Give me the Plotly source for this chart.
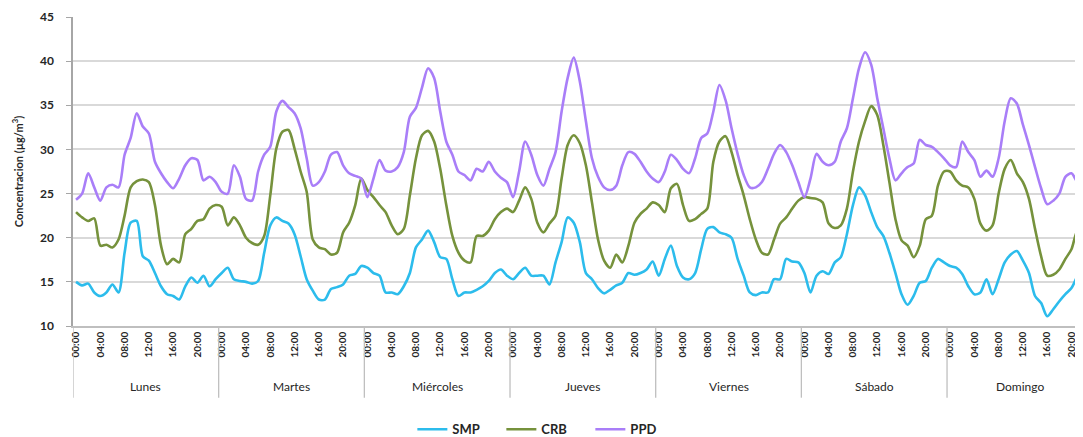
import plotly.graph_objects as go

days = ["Lunes", "Martes", "Miércoles", "Jueves", "Viernes", "Sábado", "Domingo"]
hour_labels = ["00:00", "04:00", "08:00", "12:00", "16:00", "20:00"]

smp = [15.0, 14.6, 14.8, 13.8, 13.4, 13.8, 14.7, 13.8, 18.3, 21.7, 21.9, 17.9, 17.4, 16.0, 14.5, 13.6,
       13.4, 13.0, 14.5, 15.5, 14.9, 15.7, 14.5, 15.3,
       16.0, 16.6, 15.3, 15.1, 15.0, 14.8, 15.1, 18.3, 21.4, 22.3, 21.9, 21.6, 20.4, 17.9, 15.3, 14.0,
       13.0, 13.0, 14.2, 14.4, 14.7, 15.7, 15.9, 16.8,
       16.6, 16.0, 15.7, 13.8, 13.8, 13.6, 14.5, 16.0, 18.9, 19.8, 20.8, 19.5, 17.8, 17.6, 15.3, 13.4,
       13.8, 13.8, 14.1, 14.5, 15.1, 16.0, 16.4, 15.7,
       15.3, 16.0, 16.6, 15.7, 15.7, 15.7, 14.7, 17.2, 19.5, 22.3, 21.7, 19.5, 16.0, 15.3, 14.3, 13.7,
       14.1, 14.6, 14.9, 16.0, 15.8, 16.0, 16.4, 17.3,
       15.7, 17.6, 19.1, 16.8, 15.5, 15.3, 16.0, 18.7, 21.0, 21.2, 20.6, 20.4, 20.0, 17.6, 15.7, 13.8,
       13.5, 13.8, 13.8, 15.3, 15.3, 17.6, 17.3, 17.2,
       16.0, 13.8, 15.7, 16.2, 15.9, 17.2, 17.8, 20.4, 23.7, 25.7, 24.8, 22.9, 21.2, 20.2, 18.3, 16.0,
       13.6, 12.4, 13.4, 14.9, 15.1, 16.6, 17.6, 17.2,
       16.8, 16.6, 15.9, 14.5, 13.6, 13.8, 15.3, 13.6, 15.3, 17.2, 18.1, 18.5, 17.4, 16.0, 13.4, 12.6,
       11.1, 11.9, 12.8, 13.6, 14.3, 15.7, 16.8, 17.3]

crb = [22.9, 22.3, 21.9, 22.2, 19.1, 19.2, 18.9, 19.8, 22.5, 25.7, 26.4, 26.6, 26.3, 23.7, 19.1, 17.0,
       17.6, 17.2, 20.4, 21.0, 21.9, 22.1, 23.3, 23.7,
       23.5, 21.4, 22.3, 21.4, 20.0, 19.4, 19.2, 20.2, 24.8, 30.1, 32.0, 32.2, 30.1, 27.5, 25.2, 19.8,
       18.9, 18.7, 18.1, 18.3, 20.6, 21.7, 23.7, 26.7,
       25.4, 24.6, 23.7, 22.9, 21.4, 20.4, 21.0, 24.8, 29.0, 31.6, 32.1, 30.9, 27.8, 23.7, 20.2, 18.3,
       17.4, 17.2, 20.2, 20.2, 20.8, 22.1, 22.9, 23.3,
       22.9, 24.2, 25.7, 24.4, 21.7, 20.6, 21.6, 22.5, 26.7, 30.5, 31.6, 30.7, 28.2, 24.0, 19.8, 17.4,
       16.6, 18.1, 17.2, 19.1, 21.7, 22.7, 23.3, 24.0,
       23.7, 22.9, 25.6, 26.1, 23.7, 21.9, 22.1, 22.7, 23.3, 28.6, 30.9, 31.5, 29.7, 27.1, 24.8, 22.1,
       19.8, 18.3, 18.1, 19.8, 21.6, 22.3, 23.3, 24.2,
       24.6, 24.5, 24.4, 24.0, 21.6, 21.1, 21.4, 23.3, 27.5, 30.9, 33.2, 34.9, 33.9, 30.5, 26.3, 22.1,
       19.7, 19.1, 17.8, 19.1, 22.1, 22.5, 25.9, 27.5,
       27.5, 26.5, 25.9, 25.7, 24.4, 21.6, 20.8, 21.4, 25.0, 27.8, 28.8, 27.3, 26.3, 24.4, 21.0, 17.9,
       15.7, 15.8, 16.4, 17.6, 18.7, 20.8, 21.0, 21.0]

ppd = [24.3, 25.0, 27.3, 25.7, 24.2, 25.7, 26.0, 25.7, 29.4, 31.3, 34.1, 32.6, 31.8, 28.6, 27.3, 26.3,
       25.6, 26.7, 28.2, 29.0, 28.8, 26.5, 26.9, 26.3,
       25.2, 25.0, 28.2, 26.9, 24.4, 24.2, 27.5, 29.4, 30.3, 34.3, 35.5, 34.8, 34.1, 32.4, 29.0, 25.9,
       26.3, 27.5, 29.4, 29.7, 28.2, 27.3, 27.0, 26.7,
       24.6, 26.7, 28.8, 27.6, 27.5, 28.0, 29.7, 33.7, 34.7, 37.0, 39.2, 38.1, 34.3, 30.9, 29.4, 27.5,
       27.1, 26.5, 27.8, 27.5, 28.6, 27.5, 26.8, 26.3,
       24.6, 27.5, 30.9, 29.4, 27.1, 25.9, 27.8, 29.7, 34.3, 38.1, 40.4, 37.7, 33.2, 29.0, 26.9, 25.7,
       25.4, 25.9, 28.2, 29.7, 29.5, 28.6, 27.5, 26.7,
       26.3, 27.5, 29.4, 28.8, 27.8, 27.3, 29.0, 31.3, 31.8, 34.3, 37.3, 35.6, 32.4, 29.5, 27.1, 25.7,
       25.7, 26.3, 27.8, 29.5, 30.5, 29.7, 28.2, 26.3,
       24.6, 26.7, 29.5, 28.6, 28.2, 28.6, 30.9, 32.4, 35.8, 39.2, 41.0, 39.6, 35.8, 32.4, 29.0, 26.5,
       27.3, 28.0, 28.4, 31.1, 30.5, 30.3, 29.7, 29.0,
       28.2, 28.0, 30.9, 29.7, 28.8, 26.9, 27.6, 26.9, 29.0, 33.2, 35.8, 35.2, 32.8, 30.5, 28.0, 25.6,
       23.8, 24.2, 25.0, 26.9, 27.3, 26.3, 26.1, 26.0]

n = len(smp)
x = list(range(n))
hours_per_day = n // len(days)
step = hours_per_day // len(hour_labels)

tickvals = [d * hours_per_day + k * step for d in range(len(days)) for k in range(len(hour_labels))]
ticktext = [hour_labels[k] for d in range(len(days)) for k in range(len(hour_labels))]

FONT = "Lato, 'Open Sans', sans-serif"
TXT = "#262626"

fig = go.Figure()
series = [("SMP", smp, "#2cbcec"), ("CRB", crb, "#76923c"), ("PPD", ppd, "#a97ef8")]
for name, vals, col in series:
    fig.add_trace(go.Scatter(x=x, y=vals, name=name, mode="lines",
                             line=dict(color=col, width=2.6, shape="spline", smoothing=0.8)))

# day separators and day labels
for d in range(len(days) + 1):
    fig.add_shape(type="line", xref="x", yref="paper",
                  x0=d * hours_per_day - 0.5, x1=d * hours_per_day - 0.5,
                  y0=0, y1=-0.232, line=dict(color="#bfbfbf", width=1.3))
for d, name in enumerate(days):
    fig.add_annotation(x=d * hours_per_day + (hours_per_day - 1) / 2, y=-0.195,
                       xref="x", yref="paper", text=name, showarrow=False,
                       font=dict(family=FONT, size=12, color=TXT), yanchor="middle")

fig.update_layout(
    width=1075, height=429,
    margin=dict(l=65, r=0, t=9, b=111, autoexpand=False),
    paper_bgcolor="white", plot_bgcolor="white",
    font=dict(family=FONT, color=TXT),
    showlegend=True,
    legend=dict(orientation="h", x=0.336, xanchor="left", y=0.018, yref="container", yanchor="middle",
                font=dict(family=FONT, size=13, color=TXT, weight="bold"),
                entrywidth=44, entrywidthmode="pixels", tracegroupgap=0),
)
fig.update_xaxes(range=[-0.5, 165.9], tickmode="array", tickvals=tickvals, ticktext=ticktext,
                 tickangle=-90, tickfont=dict(family=FONT, size=10, color=TXT, weight="bold"),
                 showgrid=False, showline=True, linecolor="#bfbfbf", linewidth=1.5,
                 ticks="", zeroline=False, automargin=False)
fig.update_yaxes(range=[10, 45], dtick=5, tick0=10, showgrid=True, gridcolor="#d9d9d9", gridwidth=1.6,
                 showline=True, linecolor="#a6a6a6", linewidth=1.5, ticks="outside", ticklen=5,
                 tickcolor="#a6a6a6", ticklabelstandoff=10, automargin=False,
                 tickfont=dict(family=FONT, size=12, color=TXT, weight="bold"), zeroline=False,
                 title=dict(text="Concentracion (µg/m<sup>3</sup>)", standoff=14,
                            font=dict(family=FONT, size=11, color=TXT, weight="bold")))

fig.write_html("out.html")
